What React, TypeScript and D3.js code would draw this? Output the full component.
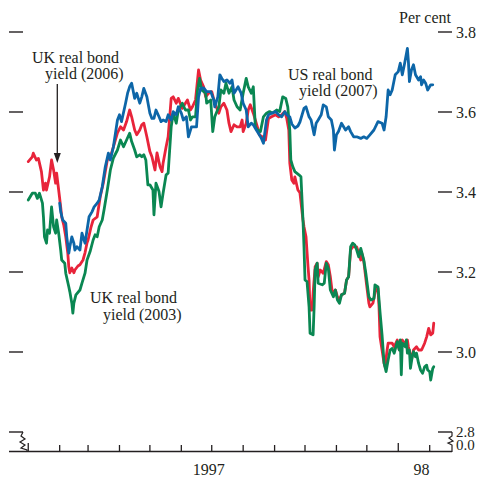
import React from "react";
import * as d3 from "d3";

// Day offsets from 1 Jan 1997, yields in per cent
const ukReal2006: [number, number][] = [
  [0,3.476],[4,3.488],[5,3.497],[8,3.480],[10,3.484],[13,3.451],[15,3.405],[17,3.422],[18,3.405],[21,3.438],[23,3.480],[25,3.455],[27,3.422],[28,3.447],[30,3.405],[32,3.363],[33,3.338],[35,3.318],[37,3.288],[39,3.247],[40,3.213],[41,3.198],[43,3.210],[45,3.198],[46,3.205],[49,3.215],[51,3.218],[54,3.230],[56,3.248],[58,3.273],[59,3.280],[62,3.313],[64,3.330],[68,3.338],[71,3.388],[74,3.422],[78,3.480],[81,3.488],[84,3.513],[88,3.548],[91,3.563],[94,3.555],[97,3.576],[100,3.605],[102,3.588],[105,3.555],[107,3.543],[110,3.555],[112,3.568],[114,3.572],[117,3.538],[120,3.501],[122,3.488],[125,3.455],[127,3.498],[130,3.463],[132,3.451],[133,3.472],[136,3.513],[138,3.538],[141,3.634],[143,3.638],[146,3.622],[148,3.634],[152,3.609],[155,3.622],[157,3.630],[160,3.605],[162,3.613],[165,3.630],[168,3.705],[170,3.680],[173,3.663],[175,3.638],[178,3.647],[181,3.651],[184,3.622],[188,3.597],[190,3.613],[193,3.622],[196,3.605],[198,3.572],[200,3.551],[203,3.568],[206,3.563],[209,3.563],[211,3.580],[212,3.551],[215,3.572],[217,3.605],[219,3.618],[222,3.597],[226,3.563],[228,3.543],[231,3.538],[234,3.530],[237,3.584],[240,3.588],[244,3.593],[247,3.588],[250,3.593],[253,3.601],[255,3.584],[257,3.555],[258,3.472],[260,3.430],[262,3.422],[263,3.438],[266,3.405],[268,3.398],[271,3.330],[272,3.313],[274,3.288],[276,3.213],[277,3.180],[278,3.105],[280,3.105],[281,3.148],[283,3.213],[285,3.222],[286,3.188],[288,3.205],[291,3.197],[294,3.226],[296,3.218],[298,3.188],[300,3.147],[303,3.155],[305,3.138],[307,3.130],[309,3.143],[312,3.147],[314,3.180],[316,3.188],[318,3.255],[320,3.263],[322,3.263],[324,3.263],[326,3.247],[328,3.230],[329,3.247],[331,3.226],[334,3.163],[336,3.122],[337,3.113],[340,3.122],[343,3.160],[345,3.159],[346,3.113],[347,3.038],[349,3.005],[351,2.972],[352,2.963],[354,3.005],[355,3.022],[359,3.022],[361,3.013],[364,3.030],[366,3.005],[369,3.030],[371,3.022],[374,3.030],[375,3.013],[378,2.980],[380,3.005],[383,3.013],[385,3.005],[388,3.005],[391,3.022],[393,3.038],[395,3.059],[397,3.043],[399,3.047],[400,3.072]
];

const ukReal2003: [number, number][] = [
  [0,3.380],[4,3.397],[7,3.397],[9,3.384],[11,3.397],[14,3.372],[15,3.338],[16,3.288],[18,3.272],[19,3.305],[21,3.297],[23,3.363],[25,3.313],[27,3.297],[28,3.330],[30,3.297],[32,3.255],[33,3.230],[36,3.222],[37,3.197],[40,3.163],[41,3.151],[43,3.122],[44,3.097],[45,3.122],[47,3.143],[51,3.155],[53,3.172],[56,3.197],[58,3.230],[61,3.251],[64,3.280],[66,3.293],[68,3.288],[70,3.313],[73,3.330],[75,3.359],[78,3.405],[81,3.455],[84,3.485],[88,3.505],[91,3.530],[94,3.513],[97,3.530],[100,3.547],[102,3.526],[105,3.505],[107,3.488],[110,3.493],[112,3.488],[114,3.493],[116,3.480],[118,3.418],[120,3.418],[123,3.405],[124,3.343],[126,3.422],[129,3.401],[131,3.363],[133,3.397],[136,3.443],[138,3.447],[141,3.563],[143,3.597],[146,3.572],[148,3.605],[152,3.622],[155,3.605],[158,3.605],[160,3.580],[162,3.588],[165,3.588],[167,3.655],[169,3.684],[171,3.655],[175,3.647],[176,3.622],[180,3.630],[182,3.551],[184,3.588],[188,3.613],[190,3.655],[193,3.647],[195,3.672],[198,3.647],[201,3.663],[203,3.630],[206,3.613],[209,3.605],[212,3.647],[215,3.684],[217,3.663],[220,3.647],[222,3.663],[224,3.563],[226,3.555],[229,3.551],[232,3.588],[235,3.597],[238,3.601],[241,3.597],[245,3.605],[248,3.601],[251,3.638],[254,3.634],[256,3.613],[258,3.555],[259,3.480],[261,3.463],[263,3.451],[267,3.443],[269,3.438],[271,3.330],[272,3.263],[273,3.180],[275,3.176],[277,3.113],[278,3.047],[281,3.043],[282,3.113],[283,3.205],[285,3.222],[286,3.172],[290,3.168],[292,3.172],[294,3.222],[296,3.209],[298,3.155],[301,3.138],[303,3.155],[305,3.130],[307,3.122],[309,3.143],[312,3.147],[314,3.180],[316,3.188],[318,3.263],[320,3.272],[322,3.268],[324,3.255],[326,3.238],[328,3.259],[331,3.230],[333,3.197],[336,3.138],[338,3.130],[341,3.134],[342,3.168],[345,3.163],[347,3.100],[349,3.043],[351,2.972],[353,2.951],[355,2.980],[357,3.005],[359,3.009],[361,2.997],[364,3.026],[366,3.005],[367,3.030],[368,2.943],[369,3.022],[372,3.013],[373,3.030],[374,2.997],[376,3.005],[377,2.959],[379,2.992],[380,3.001],[382,2.988],[383,2.997],[385,2.972],[387,2.955],[389,2.947],[391,2.963],[393,2.967],[394,2.955],[396,2.951],[397,2.930],[399,2.959],[400,2.963]
];

const usReal2007: [number, number][] = [
  [31,3.372],[32,3.351],[34,3.330],[37,3.322],[38,3.288],[40,3.247],[41,3.263],[43,3.288],[45,3.272],[46,3.255],[48,3.263],[51,3.255],[53,3.297],[55,3.280],[56,3.272],[58,3.305],[60,3.338],[63,3.351],[65,3.363],[68,3.372],[70,3.380],[73,3.413],[76,3.463],[79,3.497],[81,3.480],[84,3.513],[88,3.580],[90,3.593],[92,3.576],[96,3.622],[98,3.647],[100,3.663],[102,3.672],[105,3.634],[107,3.647],[110,3.622],[112,3.638],[114,3.659],[117,3.638],[120,3.597],[122,3.584],[124,3.584],[126,3.605],[129,3.588],[131,3.576],[133,3.580],[136,3.576],[138,3.593],[141,3.580],[143,3.601],[146,3.593],[148,3.613],[151,3.597],[153,3.580],[156,3.588],[158,3.538],[161,3.563],[163,3.563],[166,3.563],[168,3.638],[170,3.659],[173,3.660],[176,3.651],[180,3.651],[183,3.630],[184,3.613],[187,3.638],[189,3.693],[191,3.684],[193,3.676],[196,3.680],[199,3.672],[201,3.680],[203,3.647],[205,3.655],[207,3.663],[210,3.647],[212,3.622],[215,3.605],[217,3.563],[220,3.572],[222,3.568],[225,3.555],[227,3.547],[230,3.534],[232,3.522],[235,3.580],[237,3.593],[240,3.597],[244,3.601],[247,3.593],[250,3.588],[253,3.601],[255,3.593],[258,3.588],[260,3.570],[263,3.560],[266,3.565],[268,3.575],[272,3.609],[274,3.613],[277,3.588],[279,3.580],[282,3.543],[284,3.572],[286,3.580],[289,3.593],[291,3.618],[294,3.613],[296,3.588],[299,3.580],[301,3.555],[302,3.505],[304,3.543],[306,3.551],[309,3.572],[313,3.555],[316,3.563],[318,3.551],[321,3.538],[324,3.538],[328,3.534],[331,3.538],[334,3.534],[337,3.543],[341,3.555],[345,3.576],[349,3.572],[351,3.555],[353,3.588],[355,3.655],[357,3.643],[359,3.655],[362,3.693],[365,3.701],[367,3.722],[369,3.693],[371,3.718],[374,3.759],[375,3.726],[376,3.676],[378,3.705],[380,3.718],[382,3.693],[385,3.680],[387,3.688],[388,3.668],[390,3.680],[392,3.672],[394,3.655],[397,3.668],[399,3.668]
];

const yTicks = [3.8, 3.6, 3.4, 3.2, 3.0, 2.8];
const yTickLabels = ["3.8", "3.6", "3.4", "3.2", "3.0", "2.8"];
const yearLabels: [string, number][] = [["1997", 178], ["98", 388]];

const FONT = "'Liberation Serif', 'Times New Roman', serif";
const RED = "#e8243a";
const GREEN = "#0a8752";
const BLUE = "#0d66a8";
const INK = "#231f20";

const base = new Date(1997, 0, 1);
const toDate = (d: number) => d3.timeDay.offset(base, d);

export default function App() {
  const x = d3.scaleTime().domain([toDate(-18), toDate(418)]).range([10, 452]);
  const y = d3.scaleLinear().domain([2.8, 3.8]).range([432, 32]);
  const line = d3
    .line<[number, number]>()
    .x((d) => x(toDate(d[0])))
    .y((d) => y(d[1]));

  const months = d3.timeMonth.range(toDate(0), toDate(400));
  const axisY = 451.5;
  const series: [string, [number, number][]][] = [
    [RED, ukReal2006],
    [GREEN, ukReal2003],
    [BLUE, usReal2007],
  ];

  return (
    <svg
      width={479}
      height={477}
      style={{ position: "absolute", left: 0, top: 0, background: "#fff" }}
      fontFamily={FONT}
      fontSize={16}
    >
      {/* left ticks */}
      {yTicks.map((t) => (
        <line key={"l" + t} x1={9} x2={23} y1={y(t)} y2={y(t)} stroke={INK} strokeWidth={1.4} />
      ))}
      {/* right ticks + labels */}
      {yTicks.map((t, i) => (
        <g key={"r" + t}>
          <line x1={438} x2={452} y1={y(t)} y2={y(t)} stroke={INK} strokeWidth={1.4} />
          <text x={456} y={t === 2.8 ? y(t) + 5 : y(t) + 5.5} fill={INK} fontSize={t === 2.8 ? 15 : 16}>
            {yTickLabels[i]}
          </text>
        </g>
      ))}
      <text x={456} y={450} fill={INK} fontSize={15}>0.0</text>
      <text x={399} y={22.5} fill={INK}>Per cent</text>

      {/* axis breaks */}
      <path
        d="M23 432 L21 436 L25 439 L20 442 L25 445 L21 448 L27 450 L27 452"
        fill="none"
        stroke={INK}
        strokeWidth={1.2}
      />
      <path
        d="M452 432 L452 436 L449 438 L453 441 L448 443 L452 445 L452 452"
        fill="none"
        stroke={INK}
        strokeWidth={1.2}
      />

      {/* x axis */}
      <line x1={9} x2={452} y1={axisY} y2={axisY} stroke={INK} strokeWidth={1.4} />
      {months.map((m) => (
        <line
          key={m.toISOString()}
          x1={x(m)}
          x2={x(m)}
          y1={m.getMonth() === 0 ? axisY - 8.5 : axisY - 6.5}
          y2={axisY}
          stroke={INK}
          strokeWidth={1.3}
        />
      ))}
      {yearLabels.map(([lab, d]) => (
        <text key={lab} x={x(toDate(d))} y={475} textAnchor="middle" fill={INK}>
          {lab}
        </text>
      ))}

      {/* series */}
      {series.map(([c, data]) => (
        <path
          key={c}
          d={line(data) || ""}
          fill="none"
          stroke={c}
          strokeWidth={2.8}
          strokeLinejoin="round"
          strokeLinecap="round"
        />
      ))}

      {/* annotations */}
      <text x={32} y={63} fill={INK}>UK real bond</text>
      <text x={45} y={79} fill={INK}>yield (2006)</text>
      <line x1={57.3} x2={57.3} y1={84} y2={155} stroke={INK} strokeWidth={1.3} />
      <path d="M53.8 153 L60.8 153 L57.3 163 Z" fill={INK} />

      <text x={288} y={80} fill={INK}>US real bond</text>
      <text x={299} y={96} fill={INK}>yield (2007)</text>

      <text x={90} y={303} fill={INK}>UK real bond</text>
      <text x={103} y={320} fill={INK}>yield (2003)</text>
    </svg>
  );
}
